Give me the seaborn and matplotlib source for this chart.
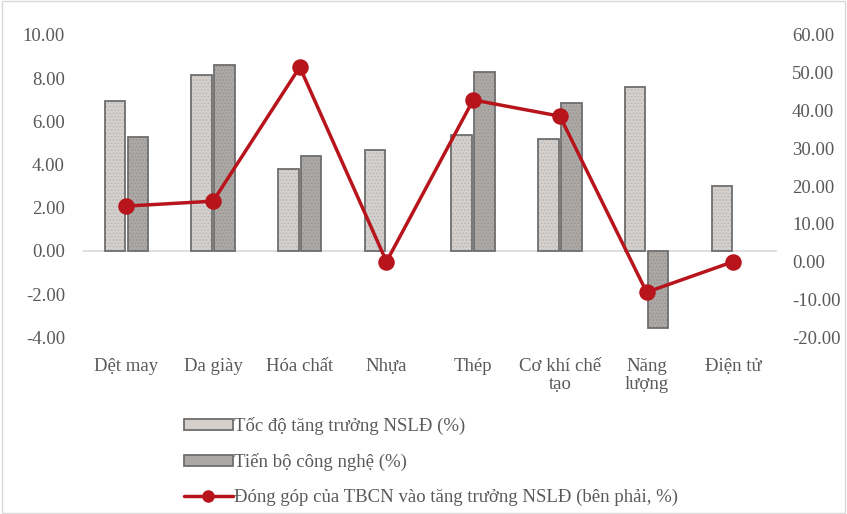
import numpy as np
import pandas as pd
import matplotlib
matplotlib.use("Agg")
import matplotlib.pyplot as plt
from matplotlib.patches import Rectangle, Patch
from matplotlib.lines import Line2D
import seaborn as sns

# Industry groups (x axis)
categories = ["Dệt may", "Da giày", "Hóa chất", "Nhựa", "Thép",
              "Cơ khí chế\ntạo", "Năng\nlượng", "Điện tử"]
# Left axis: labour productivity growth and technological progress (%)
productivity_growth = [6.94, 8.15, 3.79, 4.67, 5.36, 5.18, 7.59, 3.00]
tech_progress = [5.29, 8.61, 4.39, 0.00, 8.28, 6.85, -3.58, 0.00]
# Right axis: contribution of technological progress to growth (%)
tech_contribution = [14.7, 16.0, 51.5, 0.0, 42.8, 38.5, -8.1, 0.0]

series_names = ["Tốc độ tăng trưởng NSLĐ (%)", "Tiến bộ công nghệ (%)"]
line_name = "Đóng góp của TBCN vào tăng trưởng NSLĐ (bên phải, %)"
left_ticks = [-4, -2, 0, 2, 4, 6, 8, 10]
right_ticks = [-20, -10, 0, 10, 20, 30, 40, 50, 60]

bars = pd.DataFrame({
    "cat": categories * 2,
    "value": productivity_growth + tech_progress,
    "series": [series_names[0]] * len(categories) + [series_names[1]] * len(categories),
})
line = pd.DataFrame({"cat": categories, "value": tech_contribution})

sns.set_theme(style="white")
plt.rcParams["font.family"] = ["Liberation Serif", "DejaVu Serif"]
plt.rcParams["hatch.linewidth"] = 0.6

fs = 13.5
text_col = "#595959"
face_cols = {series_names[0]: "#d4d0ce", series_names[1]: "#aca8a6"}
dot_cols = {series_names[0]: "#b8b4b2", series_names[1]: "#97938f"}
edge_col = "#6e6e6e"
red = "#b8141c"

fig = plt.figure(figsize=(8.47, 5.14), dpi=100)
ax = fig.add_axes([0.098, 0.344, 0.819, 0.588])

sns.barplot(data=bars, x="cat", y="value", hue="series", order=categories,
            hue_order=series_names, palette=face_cols, width=0.53, gap=0.11,
            linewidth=0, legend=False, ax=ax)

# dotted texture plus dark outline on every bar
bar_patches = [p for p in ax.patches if isinstance(p, Rectangle)]
n = len(categories)
for i, p in enumerate(bar_patches):
    s = series_names[i // n]
    p.set_facecolor(face_cols[s])
    p.set_edgecolor(dot_cols[s])
    p.set_hatch(".....")
    p.set_linewidth(0)
    if p.get_height() != 0:
        ax.add_patch(Rectangle(p.get_xy(), p.get_width(), p.get_height(),
                               fill=False, edgecolor=edge_col, lw=1.3, zorder=3))

ax.axhline(0, color="#d9d9d9", lw=1.2, zorder=1)
ax.set_xlim(-0.5, len(categories) - 0.5)
ax.set_ylim(-4, 10)
ax.set_yticks(left_ticks)
ax.set_yticklabels([f"{v:.2f}" for v in left_ticks])
ax.set_xlabel("")
ax.set_ylabel("")
ax.tick_params(axis="y", length=0, pad=13, labelsize=fs, labelcolor=text_col)
ax.tick_params(axis="x", length=0, pad=15, labelsize=fs, labelcolor=text_col)
for lbl in ax.get_xticklabels():
    lbl.set_multialignment("center")
    lbl.set_linespacing(1.05)
for sp in ax.spines.values():
    sp.set_visible(False)

ax2 = ax.twinx()
sns.pointplot(data=line, x="cat", y="value", order=categories, color=red,
              markers="o", markersize=10, linewidth=2.5, ax=ax2)
ax2.set_ylim(-20, 60)
ax2.set_yticks(right_ticks)
ax2.set_yticklabels([f"{v:.2f}" for v in right_ticks])
ax2.set_ylabel("")
ax2.tick_params(axis="y", length=0, pad=11, labelsize=fs, labelcolor=text_col)
for sp in ax2.spines.values():
    sp.set_visible(False)

handles = [
    Patch(facecolor=face_cols[series_names[0]], edgecolor=edge_col, lw=1.3),
    Patch(facecolor=face_cols[series_names[1]], edgecolor=edge_col, lw=1.3),
    Line2D([], [], color=red, lw=2.5, marker="o", markersize=8),
]
fig.legend(handles, series_names + [line_name], loc="upper left",
           bbox_to_anchor=(0.217, 0.188), frameon=False, fontsize=fs,
           handlelength=2.6, handleheight=0.55, handletextpad=0.1,
           labelspacing=0.95, borderpad=0, borderaxespad=0,
           labelcolor=text_col)

# thin chart-area frame
fig.patches.append(Rectangle((0.002, 0.002), 0.996, 0.996, transform=fig.transFigure,
                             fill=False, edgecolor="#d9d9d9", lw=1.0))

fig.savefig("out.png", dpi=100)
